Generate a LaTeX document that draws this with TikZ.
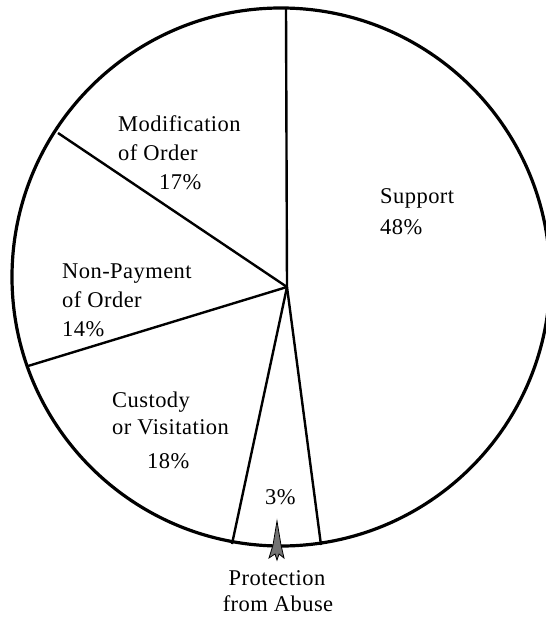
\documentclass[tikz,border=0pt]{standalone}
\usepackage{fontspec}
\setmainfont{Liberation Serif}[LetterSpace=2]
\begin{document}
\begin{tikzpicture}[x=1pt,y=-1pt,
  rim/.style={line width=3.2pt},
  spoke/.style={line width=2.4pt},
  lbl/.style={inner sep=0pt,anchor=base west,font=\fontsize{22.5}{26}\selectfont},
  clbl/.style={inner sep=0pt,anchor=base,font=\fontsize{22.5}{26}\selectfont}]
\useasboundingbox (0,0) rectangle (545,617);
\coordinate (o) at (281,277);
\coordinate (c) at (287,287);
\coordinate (t) at (286,9);
\coordinate (ul) at (58,133);
\coordinate (l) at (28,366);
\coordinate (bl) at (232,544);
\coordinate (br) at (321,545);
\draw[rim] (o) circle[radius=269pt];
\draw[spoke] (c) -- (t);
\draw[spoke] (c) -- (ul);
\draw[spoke] (c) -- (l);
\draw[spoke] (c) -- (bl);
\draw[spoke] (c) -- (br);
% pointer
\draw[fill=black!55,line width=0.8pt] (277,521) -- (281,545) -- (284,558) -- (279,554) -- (277,560) -- (275,554) -- (269,558) -- (273,545) -- cycle;
% labels
\node[lbl] (m1) at (118,132) {Modification};
\node[lbl] (m2) at (118,161) {of Order};
\node[lbl] (m3) at (159,190) {17\%};
\node[lbl] (s1) at (380,204) {Support};
\node[lbl] (s2) at (380,235) {48\%};
\node[lbl] (n1) at (62,278) {Non-Payment};
\node[lbl] (n2) at (62,307) {of Order};
\node[lbl] (n3) at (62,336) {14\%};
\node[lbl] (k1) at (112,407) {Custody};
\node[lbl] (k2) at (112,434) {or Visitation};
\node[lbl] (k3) at (147,468) {18\%};
\node[lbl] (p0) at (265,504) {3\%};
\node[clbl] (p1) at (277,585) {Protection};
\node[clbl] (p2) at (278,611) {from Abuse};
\end{tikzpicture}
\end{document}
